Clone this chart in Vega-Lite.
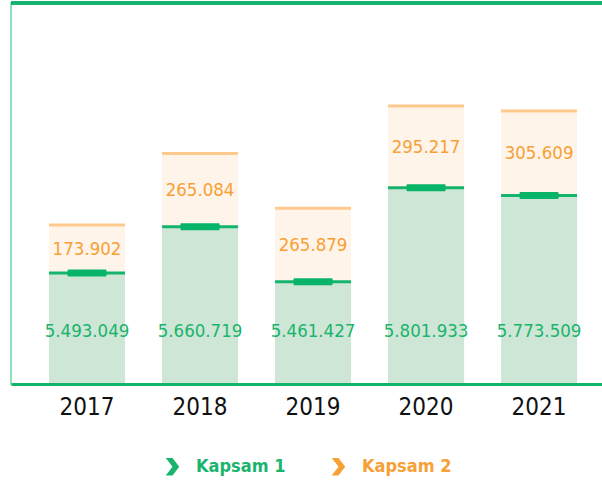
{
  "$schema": "https://vega.github.io/schema/vega-lite/v6.json",
  "autosize": {"type": "none"},
  "width": 595,
  "height": 381,
  "padding": {"left": 11, "top": 3, "right": 0, "bottom": 108},
  "background": "white",
  "config": {
    "view": {"stroke": "#8fdfbb", "strokeWidth": 2},
    "locale": {"number": {"decimal": ",", "thousands": ".", "grouping": [3], "currency": ["", ""]}},
    "font": "DejaVu Sans Condensed"
  },
  "data": {
    "values": [
      {"year": "2017", "k1": 5493049, "k2": 173902},
      {"year": "2018", "k1": 5660719, "k2": 265084},
      {"year": "2019", "k1": 5461427, "k2": 265879},
      {"year": "2020", "k1": 5801933, "k2": 295217},
      {"year": "2021", "k1": 5773509, "k2": 305609}
    ]
  },
  "transform": [
    {"calculate": "datum.k1 + datum.k2", "as": "total"},
    {"calculate": "datum.k1 + datum.k2 / 2", "as": "mid"}
  ],
  "layer": [
    {
      "mark": {"type": "bar", "color": "#cde6d5", "clip": true},
      "encoding": {
        "x": {
          "field": "year", "type": "nominal",
          "scale": {"paddingInner": 0.327, "paddingOuter": 0.296, "align": 0.568},
          "axis": {
            "title": null, "labelAngle": 0, "ticks": false,
            "domainColor": "#12b46c", "domainWidth": 3,
            "labelFont": "DejaVu Sans Condensed", "labelFontSize": 24, "labelFontWeight": "normal",
            "labelColor": "#111111", "labelPadding": 11, "grid": false, "zindex": 1
          }
        },
        "y": {"field": "k1", "type": "quantitative", "scale": {"domain": [5091800, 6470200], "zero": false, "nice": false}, "axis": null}
      }
    },
    {
      "mark": {"type": "bar", "color": "#fff4ea"},
      "encoding": {
        "x": {"field": "year", "type": "nominal"},
        "y": {"field": "k1", "type": "quantitative"},
        "y2": {"field": "total"}
      }
    },
    {
      "mark": {"type": "tick", "size": 76, "thickness": 3, "color": "#ffc98d", "opacity": 1},
      "encoding": {"x": {"field": "year", "type": "nominal"}, "y": {"field": "total", "type": "quantitative"}}
    },
    {
      "mark": {"type": "tick", "size": 76, "thickness": 3, "color": "#13b46c", "opacity": 1},
      "encoding": {"x": {"field": "year", "type": "nominal"}, "y": {"field": "k1", "type": "quantitative"}}
    },
    {
      "mark": {"type": "tick", "size": 39, "thickness": 7, "color": "#07b468", "opacity": 1, "cornerRadius": 1},
      "encoding": {"x": {"field": "year", "type": "nominal"}, "y": {"field": "k1", "type": "quantitative"}}
    },
    {
      "mark": {"type": "text", "fontSize": 18.5, "baseline": "middle", "align": "center"},
      "encoding": {
        "x": {"field": "year", "type": "nominal"},
        "y": {"field": "mid", "type": "quantitative"},
        "text": {"field": "k2", "type": "quantitative", "format": ",d"},
        "color": {"datum": "Kapsam 2"}
      }
    },
    {
      "mark": {"type": "text", "fontSize": 18.5, "baseline": "middle", "align": "center"},
      "encoding": {
        "x": {"field": "year", "type": "nominal"},
        "y": {"datum": 5283550},
        "text": {"field": "k1", "type": "quantitative", "format": ",d"},
        "color": {
          "datum": "Kapsam 1",
          "scale": {"domain": ["Kapsam 1", "Kapsam 2"], "range": ["#1ab46d", "#f7a035"]},
          "legend": {
            "title": null, "orient": "none", "legendX": 151, "legendY": 453,
            "direction": "horizontal",
            "symbolType": "M-0.65,-0.85L0,-0.85L0.65,0L0,0.85L-0.65,0.85L0,0Z",
            "symbolSize": 430, "symbolStrokeWidth": 0,
            "labelFont": "DejaVu Sans Condensed", "labelFontSize": 18, "labelFontWeight": "bold",
            "labelOffset": 13, "columnPadding": 42,
            "encode": {"labels": {"update": {"fill": {"scale": "color", "field": "value"}}}}
          }
        }
      }
    },
    {
      "mark": {"type": "rule", "color": "#12b46c", "strokeWidth": 3},
      "encoding": {"y": {"datum": 6470200}}
    }
  ]
}
